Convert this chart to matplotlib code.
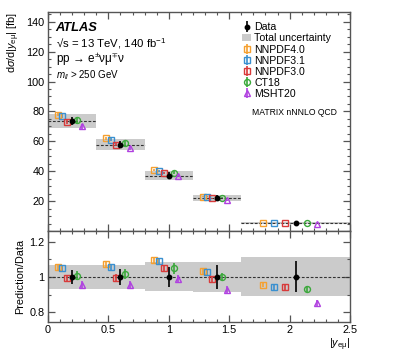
import numpy as np
import matplotlib
matplotlib.use("Agg")
import matplotlib.pyplot as plt
from matplotlib.patches import Patch
from matplotlib.ticker import MultipleLocator

plt.rcParams['font.family'] = ['Liberation Sans', 'DejaVu Sans']
plt.rcParams['mathtext.fontset'] = 'custom'
plt.rcParams['mathtext.rm'] = 'Liberation Sans'
plt.rcParams['mathtext.it'] = 'Liberation Sans:italic'

# bins in |y_emu|
edges = [0.0, 0.4, 0.8, 1.2, 1.6, 2.5]
# measured cross-section [fb], relative data error and relative total uncertainty
data = [73.6, 57.8, 37.1, 22.2, 5.6]
data_err = [0.038, 0.044, 0.055, 0.070, 0.088]
total_unc = [0.066, 0.068, 0.082, 0.087, 0.11]

# prediction / data ratios
preds = ["NNPDF4.0", "NNPDF3.1", "NNPDF3.0", "CT18", "MSHT20"]
ratios = {
    "NNPDF4.0": [1.057, 1.072, 1.097, 1.032, 0.957],
    "NNPDF3.1": [1.048, 1.055, 1.089, 1.028, 0.942],
    "NNPDF3.0": [0.994, 0.996, 1.051, 0.990, 0.942],
    "CT18":     [1.008, 1.015, 1.049, 1.002, 0.930],
    "MSHT20":   [0.953, 0.957, 0.987, 0.928, 0.852],
}
pred_err = {
    "NNPDF4.0": [0.016, 0.016, 0.017, 0.017, 0.016],
    "NNPDF3.1": [0.018, 0.018, 0.019, 0.018, 0.017],
    "NNPDF3.0": [0.018, 0.018, 0.019, 0.018, 0.017],
    "CT18":     [0.028, 0.028, 0.030, 0.022, 0.018],
    "MSHT20":   [0.022, 0.022, 0.022, 0.020, 0.019],
}
colors = {"NNPDF4.0": "#f5a030", "NNPDF3.1": "#3a90d0", "NNPDF3.0": "#d83a3a",
          "CT18": "#3aa83a", "MSHT20": "#b040e0"}
markers = {"NNPDF4.0": "s", "NNPDF3.1": "s", "NNPDF3.0": "s", "CT18": "o", "MSHT20": "^"}
offsets = {"NNPDF4.0": -0.3, "NNPDF3.1": -0.2, "NNPDF3.0": -0.1, "CT18": 0.1, "MSHT20": 0.2}

edges = np.array(edges)
data = np.array(data)
centers = 0.5 * (edges[:-1] + edges[1:])
widths = edges[1:] - edges[:-1]

fs = 7.8
fig = plt.figure(figsize=(3.99, 3.57), dpi=100)
ax = fig.add_axes([0.1203, 0.353, 0.757, 0.6134])
rx = fig.add_axes([0.1203, 0.098, 0.757, 0.255], sharex=ax)

band_col = "#cbcbcb"
for i in range(len(data)):
    lo, hi = edges[i], edges[i + 1]
    u = total_unc[i]
    ax.fill_between([lo, hi], data[i] * (1 - u), data[i] * (1 + u), color=band_col, lw=0, zorder=1)
    ax.plot([lo, hi], [data[i], data[i]], ls=(0, (2.5, 1.5)), color="#333333", lw=0.8, zorder=2)
    rx.fill_between([lo, hi], 1 - u, 1 + u, color=band_col, lw=0, zorder=1)
rx.axhline(1, ls=(0, (2.5, 1.5)), color="#333333", lw=0.8, zorder=2)

handles = []
for p in preds:
    x = centers + np.array(offsets[p]) * widths
    r = np.array(ratios[p])
    e = np.array(pred_err[p])
    kw = dict(fmt=markers[p], color=colors[p], mfc="none", mec=colors[p], ms=4.3, mew=1.0,
              elinewidth=1.2, capsize=0, zorder=4)
    h = ax.errorbar(x, data * r, yerr=data * e, **kw)
    rx.errorbar(x, r, yerr=e, **kw)
    handles.append(h)

dk = dict(fmt="o", color="black", ms=3.2, elinewidth=1.2, capsize=0, zorder=5)
hd = ax.errorbar(centers, data, yerr=data * np.array(data_err), **dk)
rx.errorbar(centers, np.ones(len(data)), yerr=data_err, **dk)

leg_handles = [hd, Patch(facecolor=band_col, edgecolor="none")] + handles
leg_labels = ["Data", "Total uncertainty"] + preds
ax.legend(leg_handles, leg_labels, loc="upper left", bbox_to_anchor=(0.635, 0.962),
          frameon=False, fontsize=7.6, handlelength=0.9, handletextpad=0.25,
          labelspacing=0.1, borderpad=0.2, borderaxespad=0)
ax.text(0.674, 0.539, "MATRIX nNNLO QCD", transform=ax.transAxes, fontsize=6.2, va="center")

ax.text(0.025, 0.929, "ATLAS", transform=ax.transAxes, fontsize=9.3, fontweight="bold",
        fontstyle="italic", va="center")
ax.text(0.025, 0.856, "\u221as = 13 TeV, 140 fb$^{-1}$", transform=ax.transAxes,
        fontsize=8.2, va="center")
ax.text(0.025, 0.783, "pp \u2192 e$^{\u00b1}$\u03bd\u03bc$^{\u2213}$\u03bd", transform=ax.transAxes,
        fontsize=8.5, va="center")
ax.text(0.025, 0.712, r"$m_{ll}$ > 250 GeV", transform=ax.transAxes, fontsize=7, va="center")

ax.set_ylim(0, 146.5)
rx.set_ylim(0.745, 1.26)
ax.set_xlim(0, 2.5)

ax.set_ylabel(r"d$\sigma$/d|$y_{\mathrm{e\mu}}$| [fb]", loc="top", fontsize=fs, labelpad=3)
rx.set_ylabel("Prediction/Data", fontsize=fs, labelpad=3)
rx.set_xlabel(r"|$y_{\mathrm{e\mu}}$|", loc="right", fontsize=fs, labelpad=1)

ax.yaxis.set_minor_locator(MultipleLocator(5))
rx.yaxis.set_minor_locator(MultipleLocator(0.1))
rx.xaxis.set_minor_locator(MultipleLocator(0.1))
rx.set_yticks([0.8, 1.0, 1.2])
rx.set_yticklabels(["0.8", "1", "1.2"])
rx.set_xticks([0, 0.5, 1, 1.5, 2, 2.5])
rx.set_xticklabels(["0", "0.5", "1", "1.5", "2", "2.5"])
ax.set_yticks([20, 40, 60, 80, 100, 120, 140])

for a in (ax, rx):
    a.tick_params(which="both", direction="in", top=True, right=True, labelsize=fs,
                  color="#555555", pad=2.5)
    a.tick_params(which="major", length=5, width=0.9)
    a.tick_params(which="minor", length=2.5, width=0.8)
    for s in a.spines.values():
        s.set_color("#555555")
        s.set_linewidth(1.0)
ax.tick_params(labelbottom=False)

fig.savefig("out.png", dpi=100)
